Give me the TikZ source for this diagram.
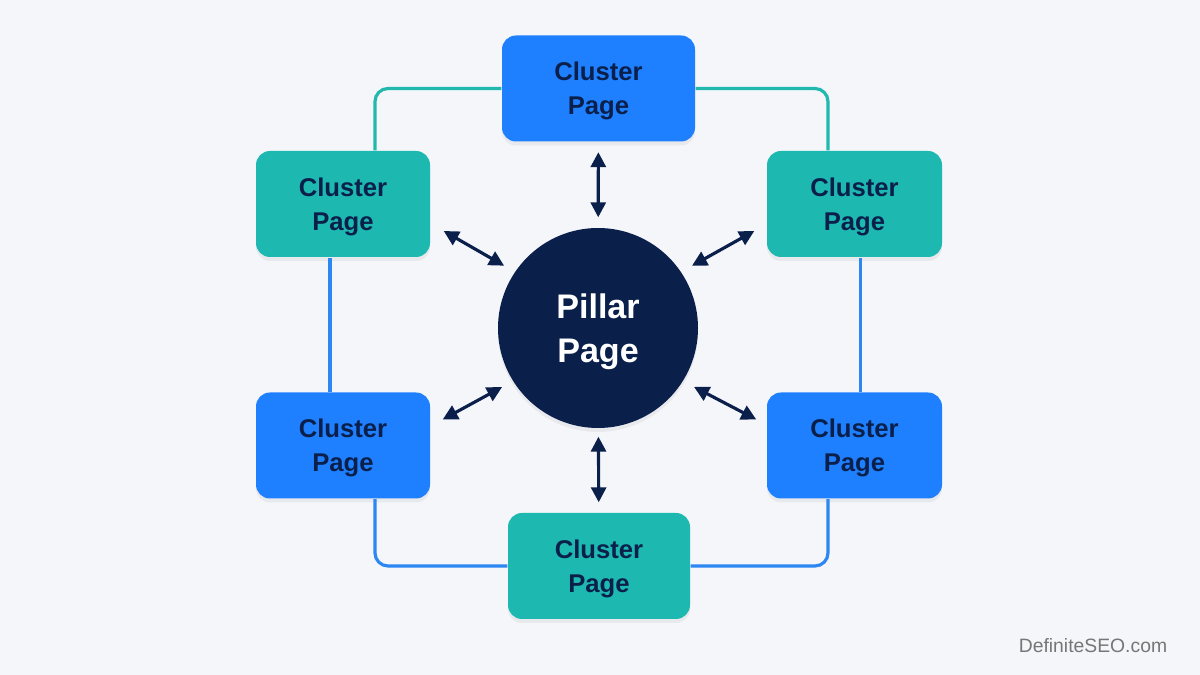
\documentclass[tikz,border=0pt]{standalone}
\usepackage{fontspec}
\setmainfont{Liberation Sans}
\usepackage{tikz}
\usetikzlibrary{arrows.meta,shadows}
\definecolor{pageBg}{HTML}{F4F6FA}
\definecolor{clBlue}{HTML}{1F80FF}
\definecolor{clTeal}{HTML}{1DB9B0}
\definecolor{lnBlue}{HTML}{2C87F2}
\definecolor{lnTeal}{HTML}{22B8AE}
\definecolor{navy}{HTML}{0B1F4B}
\definecolor{markGray}{HTML}{767676}

\begin{document}
\begin{tikzpicture}[
  clusterbox/.style={rounded corners=0.14cm,minimum height=1.06cm,align=center,text=navy,text depth=0pt,
    font=\fontsize{7.3}{9.7}\selectfont\bfseries,
    drop shadow={shadow xshift=0cm,shadow yshift=-0.04cm,opacity=0.05,fill=black}},
  bluebox/.style={clusterbox,fill=clBlue},
  tealbox/.style={clusterbox,fill=clTeal},
  ring/.style={line width=0.9pt,rounded corners=0.13cm},
  link/.style={navy,line width=0.9pt,{Triangle[length=0.15cm,width=0.15cm]}-{Triangle[length=0.15cm,width=0.15cm]}}
]
  \fill[pageBg] (0,0) rectangle (12,6.75);
  \useasboundingbox (0,0) rectangle (12,6.75);
  % pillar and its cluster pages
  \node[circle,fill=navy,minimum size=2cm,inner sep=0pt,align=center,text=white,text depth=0pt,
    font=\fontsize{9.7}{12.5}\selectfont\bfseries,
    drop shadow={shadow xshift=0cm,shadow yshift=-0.04cm,opacity=0.05,fill=black}] (pillar) at (5.98,3.47){Pillar\\Page};
  \node[bluebox,minimum width=1.93cm] (ctop) at (5.985,5.865){Cluster\\Page};
  \node[tealbox,minimum width=1.74cm] (ctl) at (3.43,4.71){Cluster\\Page};
  \node[tealbox,minimum width=1.75cm] (ctr) at (8.545,4.71){Cluster\\Page};
  \node[bluebox,minimum width=1.74cm] (cbl) at (3.43,2.295){Cluster\\Page};
  \node[bluebox,minimum width=1.75cm] (cbr) at (8.545,2.295){Cluster\\Page};
  \node[tealbox,minimum width=1.82cm] (cbot) at (5.99,1.09){Cluster\\Page};
  % outer ring
  \draw[ring,lnTeal] (ctop.west) -| ([xshift=0.32cm]ctl.north);
  \draw[ring,lnTeal] (ctop.east) -| ([xshift=-0.265cm]ctr.north);
  \draw[ring,lnBlue] ([xshift=-0.13cm]ctl.south) -- ([xshift=-0.13cm]cbl.north);
  \draw[ring,lnBlue] ([xshift=0.06cm]ctr.south) -- ([xshift=0.06cm]cbr.north);
  \draw[ring,lnBlue] ([xshift=0.32cm]cbl.south) |- (cbot.west);
  \draw[ring,lnBlue] (cbot.east) -| ([xshift=-0.265cm]cbr.south);
  % spokes
  \draw[link,shorten <=0.1cm,shorten >=0.1cm] (ctop) -- (pillar);
  \draw[link,shorten <=0.08cm,shorten >=0.1cm] (pillar) -- (cbot);
  \draw[link,shorten >=0.12cm] ([shift={(0.13,-0.27)}]ctl.east) -- (pillar.146);
  \draw[link,shorten >=0.12cm] ([shift={(-0.12,-0.27)}]ctr.west) -- (pillar.34);
  \draw[link,shorten >=0.12cm] ([shift={(0.12,0.26)}]cbl.east) -- (pillar.212);
  \draw[link,shorten >=0.12cm] ([shift={(-0.10,0.26)}]cbr.west) -- (pillar.328);
  \node[anchor=base,text=markGray,font=\fontsize{5.5}{6.6}\selectfont] (mark) at (10.93,0.22){DefiniteSEO.com};
\end{tikzpicture}
\end{document}
